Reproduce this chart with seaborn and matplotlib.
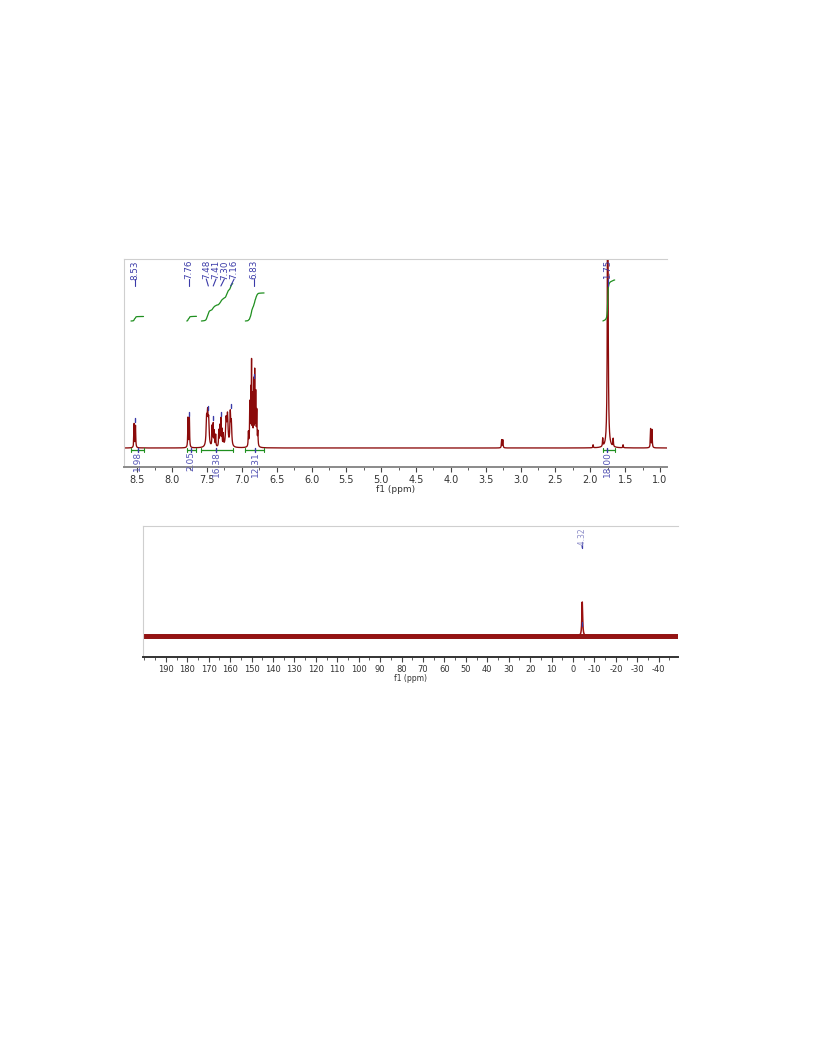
import matplotlib

matplotlib.use("Agg")
import matplotlib.pyplot as plt
import numpy as np
import pandas as pd
import seaborn as sns
from matplotlib.ticker import FixedLocator, MultipleLocator

RED = "#8b0a0a"
GREEN = "#1f8f1f"
BLUE = "#3a3aa8"

# 1H lines: shift (ppm), height above baseline (plot units), half width (ppm)
h1_shift = [8.545, 8.525,
            7.772, 7.752,
            7.505, 7.49, 7.475, 7.425, 7.41, 7.395, 7.375,
            7.33, 7.315, 7.30, 7.285, 7.265, 7.225, 7.205, 7.165, 7.15,
            6.905, 6.885, 6.87, 6.86, 6.845, 6.83, 6.815, 6.80, 6.785, 6.77,
            3.272, 3.255,
            1.96, 1.822, 1.75, 1.672, 1.53,
            1.135, 1.115]
h1_height = [24, 22,
             30, 30,
             26, 29, 24, 20, 22, 15, 12,
             16, 20, 27, 16, 12, 26, 30, 32, 22,
             14, 42, 52, 78, 48, 64, 72, 52, 34, 14,
             8, 8,
             3, 8, 320, 8, 3,
             19, 18]
h1_hwhm = [0.004, 0.004,
           0.004, 0.004,
           0.008, 0.008, 0.008, 0.004, 0.004, 0.004, 0.004,
           0.004, 0.004, 0.004, 0.004, 0.004, 0.009, 0.009, 0.007, 0.007,
           0.004, 0.004, 0.004, 0.003, 0.003, 0.003, 0.003, 0.004, 0.004, 0.004,
           0.004, 0.004,
           0.004, 0.004, 0.006, 0.004, 0.004,
           0.004, 0.004]

# peak picking labels (text position, real peak position)
pick_text = ["8.53", "7.76", "7.48", "7.41", "7.30", "7.16", "6.83", "1.75"]
pick_label_x = [8.53, 7.76, 7.51, 7.37, 7.25, 7.11, 6.83, 1.75]
pick_peak_x = [8.53, 7.76, 7.48, 7.41, 7.30, 7.16, 6.83, 1.75]
pick_peak_h = [26, 32, 38, 28, 32, 40, 70, 180]

# integration regions
int_start = [8.59, 7.79, 7.58, 6.95, 1.82]
int_end = [8.41, 7.65, 7.13, 6.68, 1.65]
int_values = [1.98, 2.05, 16.38, 12.31, 18.00]
int_label_x = [8.49, 7.73, 7.37, 6.81, 1.76]

# 13C
c13_shift = [-4.32]
c13_height = [34]
c13_hwhm = [0.22]
c13_pick = ["-4.32"]
c13_ticks = list(range(-40, 191, 10))

sns.set_theme(style="white")
plt.rcParams["font.family"] = ["DejaVu Sans"]
plt.rcParams["axes.unicode_minus"] = False

fig = plt.figure(figsize=(8.16, 10.56), dpi=100)
ax1 = fig.add_axes([124 / 816, 1 - 467 / 1056, 543 / 816, 208 / 1056])
ax2 = fig.add_axes([143 / 816, 1 - 657 / 1056, 535 / 816, 131 / 1056])


def spectrum(x, shifts, heights, widths):
    y = np.zeros_like(x)
    for s, h, w in zip(shifts, heights, widths):
        y += h * w**2 / ((x - s) ** 2 + w**2)
    return y


def style_axis(ax, major, minor, size):
    for side in ["left", "top"]:
        ax.spines[side].set_color("#cfcfcf")
        ax.spines[side].set_linewidth(0.8)
    ax.spines["right"].set_visible(False)
    ax.spines["bottom"].set_color("#8a8a8a")
    ax.spines["bottom"].set_linewidth(1.4)
    ax.set_yticks([])
    ax.xaxis.set_major_locator(MultipleLocator(major))
    ax.xaxis.set_minor_locator(MultipleLocator(minor))
    ax.tick_params(axis="x", which="major", direction="out", length=3.5, width=0.8,
                   color="#444444", labelsize=size, labelcolor="#333333", pad=2, bottom=True)
    ax.tick_params(axis="x", which="minor", direction="out", length=2, width=0.6,
                   color="#444444", bottom=True)
    ax.set_ylabel("")


# ---- 1H spectrum
x1 = np.linspace(0.90, 8.69, 9000)
y1 = spectrum(x1, h1_shift, h1_height, h1_hwhm)
df1 = pd.DataFrame({"ppm": x1, "intensity": y1})
sns.lineplot(data=df1, x="ppm", y="intensity", color=RED, lw=0.95, estimator=None, ax=ax1)
ax1.set_xlim(8.69, 0.90)
ax1.set_ylim(-19, 189)
style_axis(ax1, 0.5, 0.25, 7)
ax1.set_xlabel("f1 (ppm)", fontsize=6.5, color="#333333", labelpad=0)

# integrals
scale = 41 / 18.0
for s, e, v, lx in zip(int_start, int_end, int_values, int_label_x):
    m = (x1 <= s) & (x1 >= e)
    xs = x1[m][::-1]
    cum = np.cumsum(y1[m][::-1])
    cum = cum / cum[-1]
    ax1.plot(xs, 127 + cum * v * scale, color=GREEN, lw=0.9)
    ax1.plot([s, e], [-2, -2], color=GREEN, lw=0.9)
    ax1.plot([s, s], [-4, 0], color=GREEN, lw=0.8)
    ax1.plot([e, e], [-4, 0], color=GREEN, lw=0.8)
    ax1.plot([lx, lx], [0, -4], color=BLUE, lw=1.0)
    ax1.text(lx, -3, f"{v:.2f}", rotation=90, ha="center", va="top",
             fontsize=6.5, color="#5555b5", clip_on=False)

# peak picking
for t, lx, px, ph in zip(pick_text, pick_label_x, pick_peak_x, pick_peak_h):
    ax1.text(lx, 188, t, rotation=90, ha="center", va="top", fontsize=6.3, color=BLUE)
    ax1.plot([lx, px], [169, 162], color=BLUE, lw=0.8)
    if ph < 150:
        ax1.plot([px, px], [ph, ph + 4], color=BLUE, lw=1.0)

# ---- 13C spectrum
x2 = np.linspace(-49, 200.7, 12000)
y2 = spectrum(x2, c13_shift, c13_height, c13_hwhm)
df2 = pd.DataFrame({"ppm": x2, "intensity": y2})
ax2.axhline(0, color=RED, lw=3.6, alpha=0.95)
sns.lineplot(data=df2, x="ppm", y="intensity", color="#9a1010", lw=1.1, estimator=None, ax=ax2)
ax2.set_xlim(200.7, -49)
ax2.set_ylim(-21, 110)
style_axis(ax2, 10, 5, 6)
ax2.xaxis.set_major_locator(FixedLocator(c13_ticks))
ax2.spines["bottom"].set_color("#333333")
ax2.set_xlabel("f1 (ppm)", fontsize=5.5, color="#333333", labelpad=0)

for s, t in zip(c13_shift, c13_pick):
    ax2.text(s, 109, t, rotation=90, ha="center", va="top", fontsize=5.5, color="#8c8cc8")
    ax2.plot([s, s], [94, 88], color=BLUE, lw=0.9)
    ax2.plot([s, s], [10, 14], color=BLUE, lw=0.9)

fig.savefig("out.png", dpi=100, facecolor="white")
